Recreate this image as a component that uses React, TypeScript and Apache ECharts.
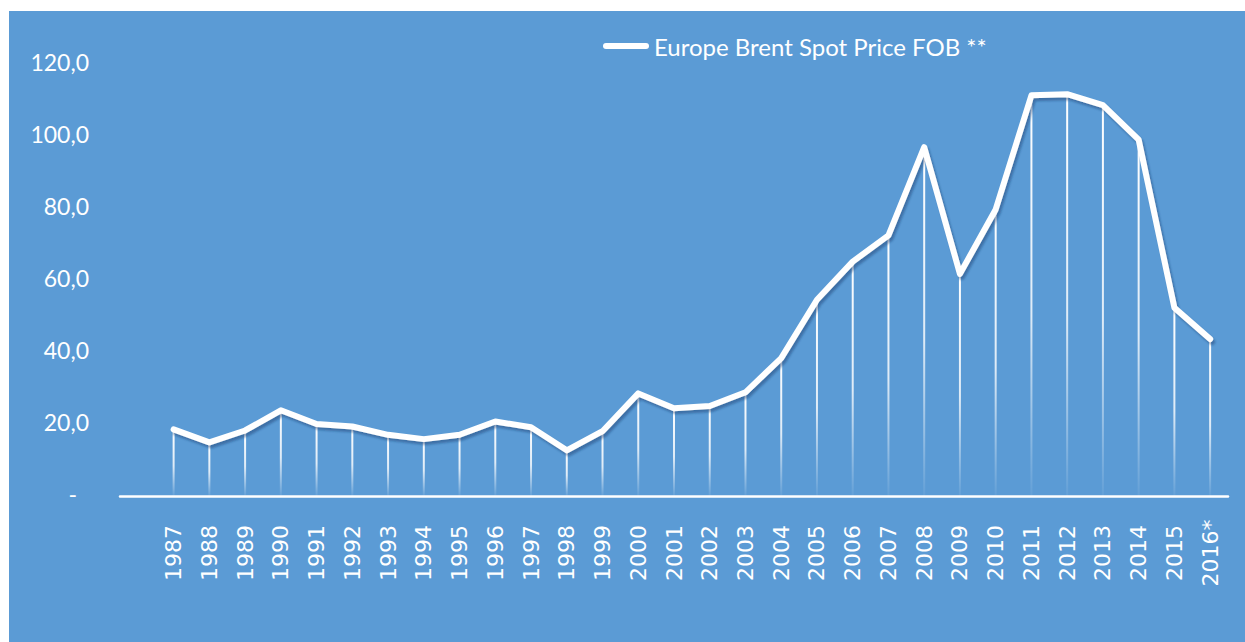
import React, { useEffect, useRef } from "react";
import * as echarts from "echarts";

const years = ["", "1987", "1988", "1989", "1990", "1991", "1992", "1993", "1994", "1995", "1996", "1997", "1998", "1999", "2000", "2001", "2002", "2003", "2004", "2005", "2006", "2007", "2008", "2009", "2010", "2011", "2012", "2013", "2014", "2015", "2016*"];
const brent = [null, 18.5, 14.9, 18.2, 23.8, 20.0, 19.3, 17.0, 15.8, 17.0, 20.7, 19.1, 12.7, 18.0, 28.5, 24.4, 25.0, 28.8, 38.3, 54.5, 65.1, 72.4, 96.9, 61.7, 79.6, 111.3, 111.6, 108.6, 99.0, 52.3, 43.6];
const seriesName = "Europe Brent Spot Price FOB **";
const yTicks = { min: 0, max: 120, interval: 20 };

export default function App() {
  const ref = useRef<HTMLDivElement>(null);
  useEffect(() => {
    if (!ref.current) return;
    const chart = echarts.init(ref.current, null, { renderer: "svg" });
    chart.setOption({
      animation: false,
      backgroundColor: "#5B9BD5",
      grid: { left: 111, right: 17, top: 53, bottom: 146, containLabel: false },
      legend: {
        data: [seriesName],
        left: 589,
        top: 18,
        itemWidth: 46,
        itemHeight: 6,
        icon: "path://M3,0 L43,0 A3,3 0 0 1 43,6 L3,6 A3,3 0 0 1 3,0 Z",
        itemStyle: { color: "#ffffff" },
        textStyle: { color: "#ffffff", fontFamily: "Lato", fontSize: 24 },
      },
      xAxis: {
        type: "category",
        data: years,
        boundaryGap: true,
        axisLine: { show: true, lineStyle: { color: "#ffffff", width: 2.5 } },
        axisTick: { show: false },
        axisLabel: {
          color: "#ffffff",
          fontFamily: "DejaVu Sans",
          fontSize: 22,
          rotate: 90,
          align: "center",
          margin: 57,
          interval: 0,
        },
      },
      yAxis: {
        type: "value",
        min: yTicks.min,
        max: yTicks.max,
        interval: yTicks.interval,
        splitLine: { show: false },
        axisLine: { show: false },
        axisTick: { show: false },
        axisLabel: {
          color: "#ffffff",
          fontFamily: "Lato",
          fontSize: 23,
          margin: 31,
          padding: [0, 0, 4, 0],
          formatter: (v: number) => (v === 0 ? "{z|-}" : v.toFixed(1).replace(".", ",")),
          rich: { z: { color: "#ffffff", fontFamily: "Lato", fontSize: 23, padding: [0, 12, 0, 0] } },
        },
      },
      series: [
        {
          name: "drop",
          type: "bar",
          data: brent,
          barWidth: 2,
          z: 1,
          itemStyle: {
            color: new echarts.graphic.LinearGradient(0, 0, 0, 1, [
              { offset: 0, color: "rgba(255,255,255,1)" },
              { offset: 0.55, color: "rgba(255,255,255,0.8)" },
              { offset: 1, color: "rgba(255,255,255,0.05)" },
            ]),
          },
        },
        {
          name: seriesName,
          type: "line",
          data: brent,
          symbol: "none",
          z: 3,
          lineStyle: {
            color: "#ffffff",
            width: 6,
            cap: "round",
            join: "round",
            shadowColor: "rgba(30,60,110,0.45)",
            shadowBlur: 2,
            shadowOffsetX: 2,
            shadowOffsetY: 3,
          },
        },
      ],
    });
    return () => chart.dispose();
  }, []);
  return (
    <div
      ref={ref}
      style={{ position: "absolute", left: 9, top: 11, width: 1236, height: 631 }}
    />
  );
}
